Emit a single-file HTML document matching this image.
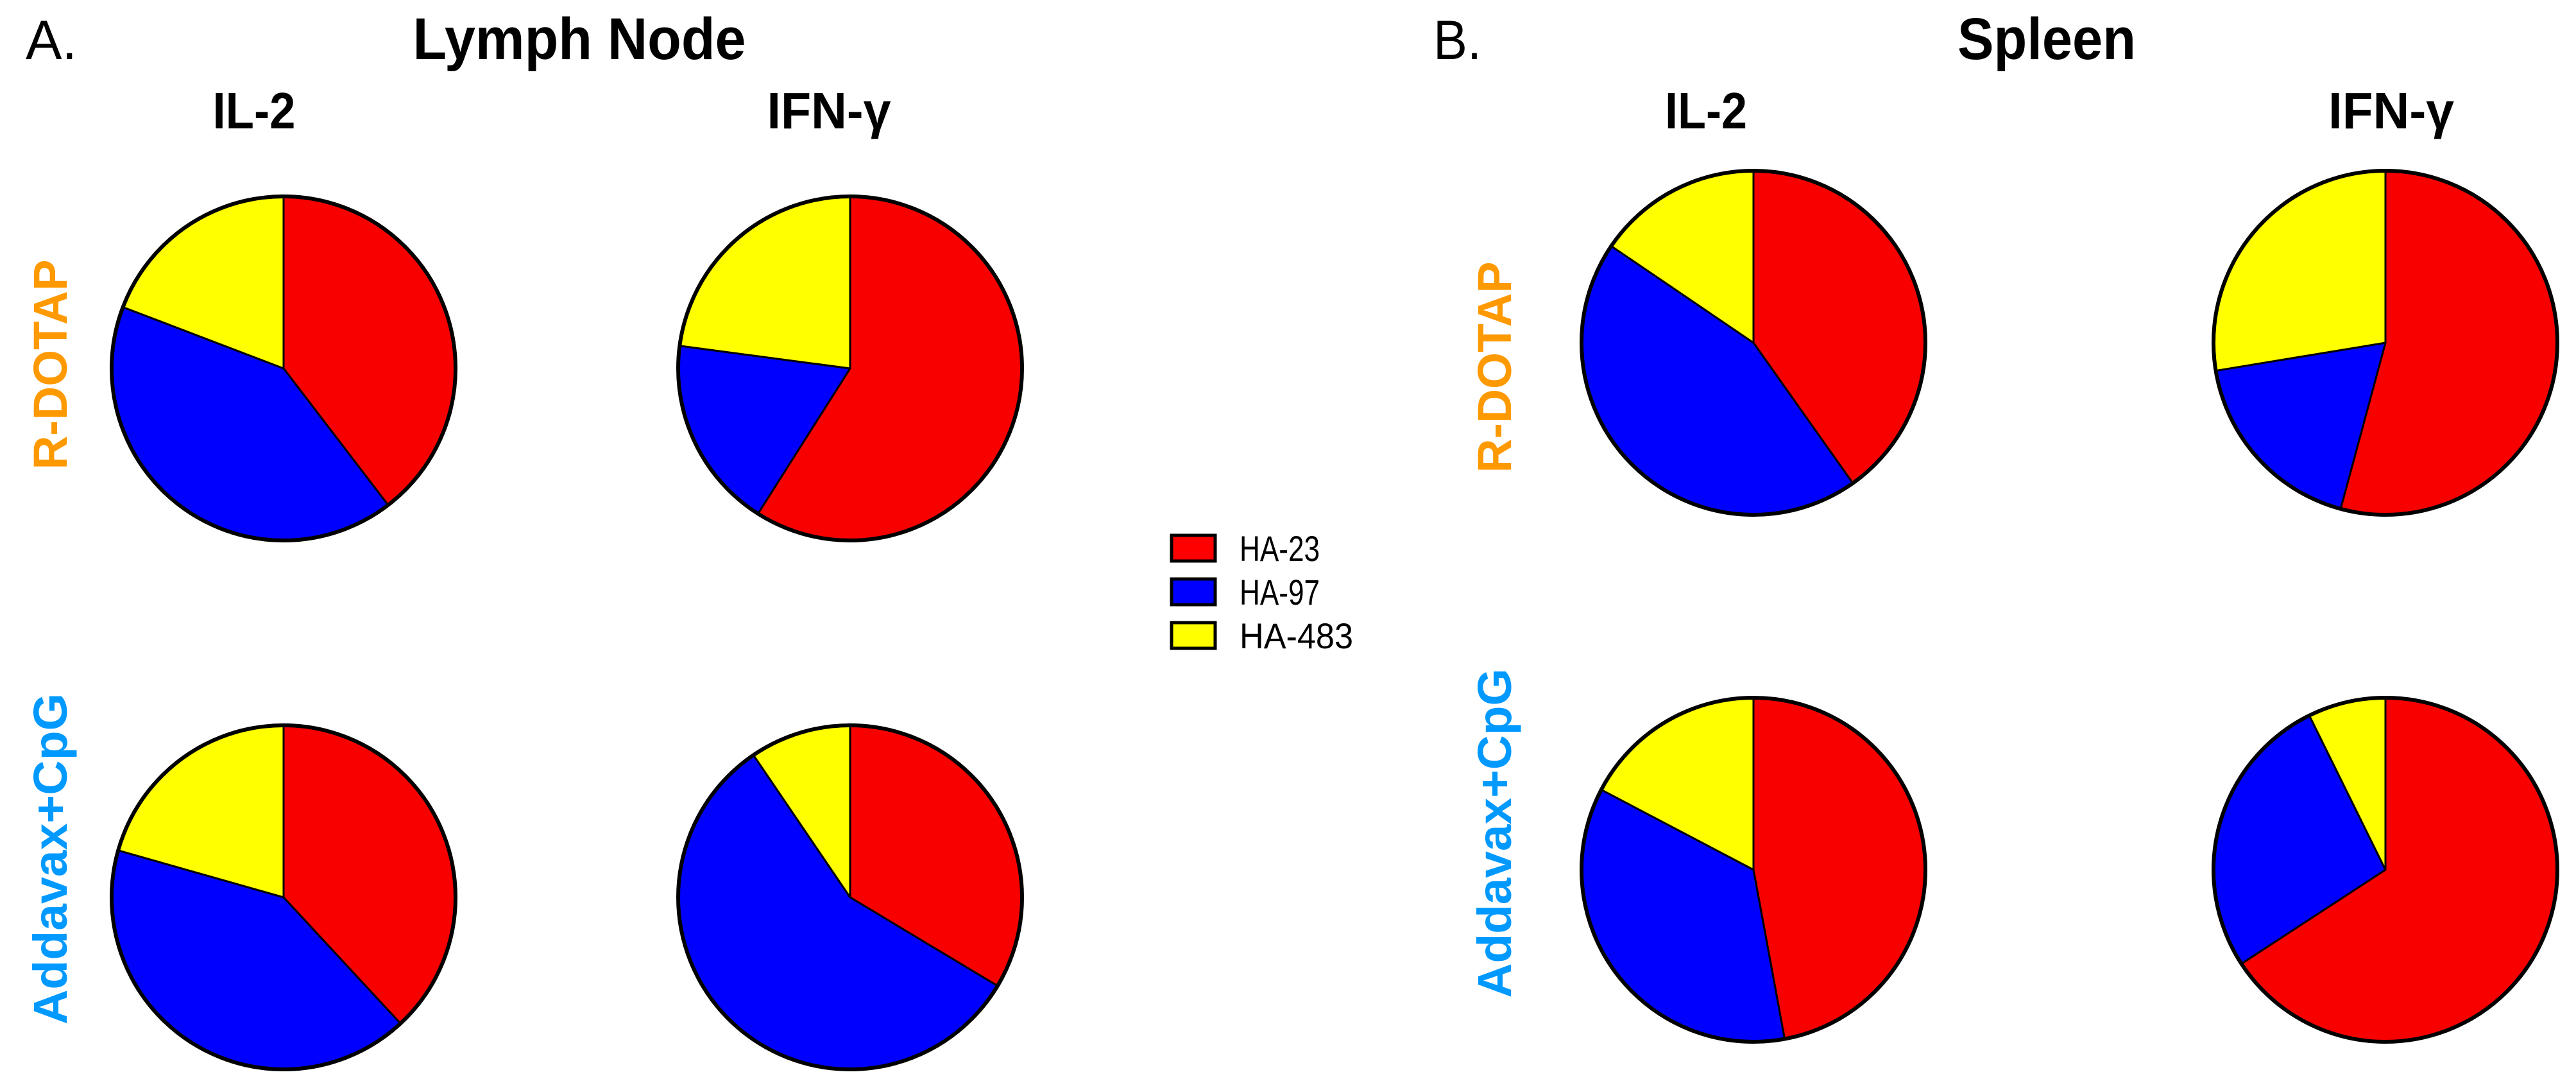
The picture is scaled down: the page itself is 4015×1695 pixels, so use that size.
<!DOCTYPE html>
<html><head><meta charset="utf-8"><style>
html,body{margin:0;padding:0;background:#fff;}
svg{display:block;}
text{font-family:"Liberation Sans",sans-serif;}
</style></head><body>
<svg id="fig" width="4015" height="1695" viewBox="0 0 4015 1695" xmlns="http://www.w3.org/2000/svg">
<text x="40" y="92" font-size="86" textLength="80" lengthAdjust="spacingAndGlyphs">A.</text>
<text x="903" y="92" font-size="92" font-weight="bold" text-anchor="middle" textLength="519" lengthAdjust="spacingAndGlyphs">Lymph Node</text>
<text x="2234" y="92" font-size="86" textLength="75" lengthAdjust="spacingAndGlyphs">B.</text>
<text x="3190" y="92" font-size="92" font-weight="bold" text-anchor="middle" textLength="278" lengthAdjust="spacingAndGlyphs">Spleen</text>
<text x="396" y="200" font-size="80" font-weight="bold" text-anchor="middle" textLength="129" lengthAdjust="spacingAndGlyphs">IL-2</text>
<text x="1292" y="200" font-size="80" font-weight="bold" text-anchor="middle" textLength="193" lengthAdjust="spacingAndGlyphs">IFN-γ</text>
<text x="2659" y="200" font-size="80" font-weight="bold" text-anchor="middle" textLength="128" lengthAdjust="spacingAndGlyphs">IL-2</text>
<text x="3727" y="200" font-size="80" font-weight="bold" text-anchor="middle" textLength="196" lengthAdjust="spacingAndGlyphs">IFN-γ</text>
<text transform="translate(104,568) rotate(-90)" font-size="74" font-weight="bold" fill="#ff9900" text-anchor="middle" textLength="327" lengthAdjust="spacingAndGlyphs">R-DOTAP</text>
<text transform="translate(104,1338) rotate(-90)" font-size="74" font-weight="bold" fill="#0099ff" text-anchor="middle" textLength="516" lengthAdjust="spacingAndGlyphs">Addavax+CpG</text>
<text transform="translate(2355,572) rotate(-90)" font-size="74" font-weight="bold" fill="#ff9900" text-anchor="middle" textLength="329" lengthAdjust="spacingAndGlyphs">R-DOTAP</text>
<text transform="translate(2355,1298) rotate(-90)" font-size="74" font-weight="bold" fill="#0099ff" text-anchor="middle" textLength="513" lengthAdjust="spacingAndGlyphs">Addavax+CpG</text>
<g id="legend">
<g><rect x="1826" y="834" width="68" height="40" fill="#ff0000" stroke="#000" stroke-width="5"/><text x="1932" y="874" font-size="56" textLength="125" lengthAdjust="spacingAndGlyphs">HA-23</text></g>
<g><rect x="1826" y="902" width="68" height="40" fill="#0000ff" stroke="#000" stroke-width="5"/><text x="1932" y="942" font-size="56" textLength="125" lengthAdjust="spacingAndGlyphs">HA-97</text></g>
<g><rect x="1826" y="970" width="68" height="40" fill="#ffff00" stroke="#000" stroke-width="5"/><text x="1932" y="1010" font-size="56" textLength="177" lengthAdjust="spacingAndGlyphs">HA-483</text></g>
</g>
<g id="pies"></g>
</svg>
<script>
const pieNames = ["ln-il2-rdotap","ln-ifng-rdotap","ln-il2-addavax","ln-ifng-addavax","sp-il2-rdotap","sp-ifng-rdotap","sp-il2-addavax","sp-ifng-addavax"];
const seriesNames = ["ha-23","ha-97","ha-483"];
const ha23 = [39.6, 59.0, 38.1, 33.6, 40.2, 54.2, 47.1, 65.8];
const ha97 = [41.2, 18.1, 41.3, 56.9, 44.3, 18.2, 35.6, 26.9];
const ha483 = [19.2, 22.9, 20.6, 9.5, 15.5, 27.6, 17.3, 7.3];
const colors = ["#f80000","#0000ff","#ffff00"];
const centers = [[442,574],[1325,574],[442,1398],[1325,1398],[2733,534],[3718,534],[2733,1355],[3718,1355]];
const R = 268;
const NS = "http://www.w3.org/2000/svg";
const g = document.getElementById("pies");
function pt(cx, cy, a){ const r = a*Math.PI/180; return [cx + R*Math.sin(r), cy - R*Math.cos(r)]; }
for (let i = 0; i < pieNames.length; i++) {
  const vals = [ha23[i], ha97[i], ha483[i]];
  const tot = vals[0] + vals[1] + vals[2];
  const [cx, cy] = centers[i];
  const pg = document.createElementNS(NS, "g");
  
  
  let start = 0;
  for (let s = 0; s < 3; s++) {
    const sweep = vals[s] / tot * 360;
    const end = start + sweep;
    const p0 = pt(cx, cy, start), p1 = pt(cx, cy, end);
    const path = document.createElementNS(NS, "path");
    path.setAttribute("d", `M${cx},${cy} L${p0[0]},${p0[1]} A${R},${R} 0 ${sweep > 180 ? 1 : 0} 1 ${p1[0]},${p1[1]} Z`);
    path.setAttribute("fill", colors[s]);
    path.setAttribute("stroke", "#000");
    path.setAttribute("stroke-width", "3");
    path.setAttribute("stroke-linejoin", "round");
    
    
    pg.appendChild(path);
    start = end;
  }
  const c = document.createElementNS(NS, "circle");
  c.setAttribute("cx", cx); c.setAttribute("cy", cy); c.setAttribute("r", R);
  c.setAttribute("fill", "none"); c.setAttribute("stroke", "#000"); c.setAttribute("stroke-width", "6");
  
  
  pg.appendChild(c);
  g.appendChild(pg);
}
</script>
</body></html>
